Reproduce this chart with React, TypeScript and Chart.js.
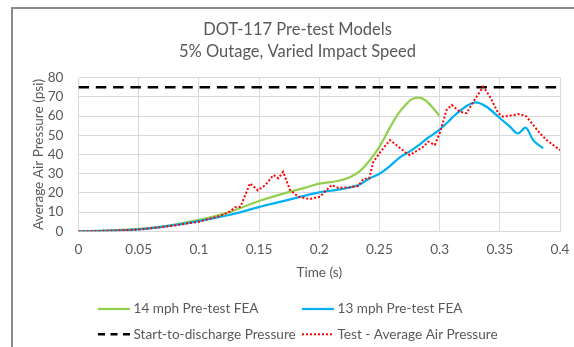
import React, { useEffect, useRef } from "react";
import { Chart, registerables } from "chart.js";

Chart.register(...registerables);

// ---- Data ----
const time14 = [0, 0.025, 0.05, 0.075, 0.1, 0.125, 0.15, 0.175, 0.19, 0.2, 0.215, 0.225, 0.234, 0.242, 0.25, 0.2587, 0.266, 0.272, 0.2767, 0.282, 0.2878, 0.2947, 0.2997];
const pressure14 = [0, 0.4, 1.2, 3.0, 5.9, 10, 15.8, 20.5, 23, 24.8, 26.2, 28, 31.5, 37, 44, 54, 61.5, 66, 68.7, 69.6, 68.4, 64.1, 60.2];

const time13 = [0, 0.025, 0.05, 0.075, 0.1, 0.125, 0.134, 0.149, 0.175, 0.2, 0.217, 0.234, 0.242, 0.25, 0.2587, 0.267, 0.275, 0.283, 0.29, 0.3, 0.3146, 0.3224, 0.33, 0.339, 0.3487, 0.3584, 0.365, 0.3714, 0.3777, 0.386];
const pressure13 = [0, 0.3, 1.0, 2.8, 5.3, 8.5, 9.9, 12.5, 16.5, 20.3, 21.8, 24.5, 27.6, 30, 34, 38.5, 41.5, 45, 48.5, 53, 61.5, 65.3, 67.2, 64.9, 59.7, 54.5, 51, 54, 47.5, 43.2];

const timeTest = [0, 0.025, 0.05, 0.075, 0.1, 0.1175, 0.1258, 0.13, 0.1345, 0.138, 0.1425, 0.149, 0.155, 0.162, 0.166, 0.17, 0.1757, 0.1826, 0.192, 0.2006, 0.2047, 0.2103, 0.2158, 0.2255, 0.2324, 0.2365, 0.2415, 0.2448, 0.2504, 0.2587, 0.2629, 0.2726, 0.2753, 0.2864, 0.2905, 0.296, 0.3003, 0.3058, 0.31, 0.3169, 0.3224, 0.328, 0.3362, 0.3418, 0.3487, 0.3528, 0.3667, 0.3723, 0.3833, 0.3889, 0.4];
const pressureTest = [0, 0.3, 0.9, 2.6, 5.0, 8.0, 10.2, 12.5, 12.8, 18, 25, 21.3, 24, 29.3, 27.6, 31, 21.5, 18, 16.8, 18, 20.6, 24.1, 22.6, 22.9, 23.6, 27.2, 27.6, 36, 41, 47.5, 45.5, 40.6, 39.7, 44, 46.7, 45, 51.5, 63.2, 65.8, 62.3, 61.5, 67.5, 75.3, 70.1, 61.5, 59.7, 61.1, 59.7, 51, 47.5, 42.3];

const timeDischarge = [0, 0.4];
const pressureDischarge = [75, 75];

const xTickValues = [0, 0.05, 0.1, 0.15, 0.2, 0.25, 0.3, 0.35, 0.4];
const xTickLabels = ["0", "0.05", "0.1", "0.15", "0.2", "0.25", "0.3", "0.35", "0.4"];
const yTickValues = [0, 10, 20, 30, 40, 50, 60, 70, 80];
const yTickLabels = ["0", "10", "20", "30", "40", "50", "60", "70", "80"];

const titleLines = ["DOT-117 Pre-test Models", "5% Outage, Varied Impact Speed"];
const xTitle = "Time (s)";
const yTitle = "Average Air Pressure (psi)";
const seriesNames = ["14 mph Pre-test FEA", "13 mph Pre-test FEA", "Start-to-discharge Pressure", "Test - Average Air Pressure"];

const TEXT = "#595959";
const FONT = "Lato";
const W = 595;
const H = 347;

const pts = (xs: number[], ys: number[]) => xs.map((x, i) => ({ x, y: ys[i] }));

const decorPlugin = {
  id: "decor",
  afterDraw(chart: any) {
    const ctx = chart.ctx as CanvasRenderingContext2D;
    ctx.save();
    // title
    ctx.fillStyle = TEXT;
    ctx.font = `16.5px ${FONT}`;
    ctx.textAlign = "center";
    ctx.textBaseline = "alphabetic";
    ctx.fillText(titleLines[0], chart.width / 2, 34.5);
    ctx.fillText(titleLines[1], chart.width / 2, 57);

    // legend
    const items = [
      { ds: 3, col: 0, row: 0, dash: null as number[] | null },
      { ds: 2, col: 1, row: 0, dash: null as number[] | null },
      { ds: 1, col: 0, row: 1, dash: [7, 5.5] },
      { ds: 0, col: 1, row: 1, dash: null as number[] | null },
    ];
    const colX = [98, 302];
    const rowY = [309, 334.3];
    ctx.font = `13.6px ${FONT}`;
    ctx.textAlign = "left";
    ctx.textBaseline = "middle";
    items.forEach((it) => {
      const ds = chart.data.datasets[it.ds];
      const x0 = colX[it.col];
      const y = rowY[it.row];
      ctx.save();
      ctx.strokeStyle = ds.borderColor;
      ctx.lineWidth = ds.borderWidth;
      ctx.setLineDash(it.dash || ds.borderDash || []);
      ctx.beginPath();
      ctx.moveTo(x0, y);
      ctx.lineTo(x0 + 32, y);
      ctx.stroke();
      ctx.restore();
      ctx.fillStyle = TEXT;
      ctx.fillText(ds.label, x0 + 35.5, y);
    });
    ctx.restore();
  },
};

export default function App() {
  const ref = useRef<HTMLCanvasElement>(null);

  useEffect(() => {
    const canvas = ref.current!;
    const chart = new Chart(canvas, {
      type: "line",
      data: {
        datasets: [
          {
            label: seriesNames[3],
            data: pts(timeTest, pressureTest),
            borderColor: "#FF0000",
            borderWidth: 2,
            borderDash: [2, 2],
            pointRadius: 0,
            tension: 0,
            fill: false,
          },
          {
            label: seriesNames[2],
            data: pts(timeDischarge, pressureDischarge),
            borderColor: "#000000",
            borderWidth: 2.5,
            borderDash: [10.5, 6.8],
            pointRadius: 0,
            fill: false,
          },
          {
            label: seriesNames[1],
            data: pts(time13, pressure13),
            borderColor: "#00B0F0",
            borderWidth: 2.25,
            pointRadius: 0,
            cubicInterpolationMode: "monotone",
            fill: false,
          },
          {
            label: seriesNames[0],
            data: pts(time14, pressure14),
            borderColor: "#92D050",
            borderWidth: 2.25,
            pointRadius: 0,
            cubicInterpolationMode: "monotone",
            fill: false,
          },
        ],
      },
      options: {
        responsive: false,
        animation: false,
        devicePixelRatio: 1,
        layout: { padding: { left: 0, right: W - 560, top: 77.7, bottom: 0 } },
        plugins: {
          legend: { display: false },
          title: { display: false },
          tooltip: { enabled: false },
        },
        scales: {
          x: {
            type: "linear",
            min: 0,
            max: 0.4,
            afterBuildTicks: (s: any) => {
              s.ticks = xTickValues.map((v) => ({ value: v }));
            },
            afterFit: (s: any) => {
              s.height = H - 231.3;
            },
            ticks: {
              autoSkip: false,
              maxRotation: 0,
              color: TEXT,
              font: { family: FONT, size: 13.6 },
              padding: 10,
              callback: (_v: any, i: number) => xTickLabels[i],
            },
            grid: { color: "#d9d9d9", lineWidth: 1, drawTicks: false },
            border: { display: true, color: "#d9d9d9" },
            title: {
              display: true,
              text: xTitle,
              color: TEXT,
              font: { family: FONT, size: 13.6, lineHeight: 1.2 },
              padding: { top: 0, bottom: 66 },
            },
          },
          y: {
            type: "linear",
            min: 0,
            max: 80,
            afterBuildTicks: (s: any) => {
              s.ticks = yTickValues.map((v) => ({ value: v }));
            },
            afterFit: (s: any) => {
              s.width = 78.5;
            },
            ticks: {
              autoSkip: false,
              color: TEXT,
              font: { family: FONT, size: 13.6 },
              padding: 15,
              callback: (_v: any, i: number) => yTickLabels[i],
            },
            grid: { color: "#d9d9d9", lineWidth: 1, drawTicks: false },
            border: { display: false },
            title: {
              display: true,
              text: yTitle,
              color: TEXT,
              font: { family: FONT, size: 13.6, lineHeight: 1.2 },
              padding: { top: 30, bottom: 0 },
            },
          },
        },
      },
      plugins: [decorPlugin],
    });
    return () => chart.destroy();
  }, []);

  return (
    <div
      style={{
        position: "fixed",
        left: 0,
        top: 0,
        width: 574,
        height: 347,
        overflow: "hidden",
        background: "#ffffff",
      }}
    >
      <div
        style={{
          position: "absolute",
          left: 11,
          top: 7,
          width: 620,
          height: 400,
          border: "2px solid #8a8a8a",
          boxSizing: "border-box",
        }}
      />
      <canvas
        ref={ref}
        width={W}
        height={H}
        style={{ position: "absolute", left: 0, top: 0, width: W, height: H }}
      />
    </div>
  );
}
